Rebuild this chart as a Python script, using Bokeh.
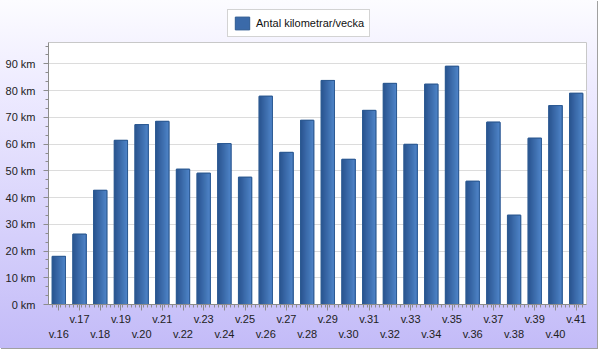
from bokeh.plotting import figure
from bokeh.layouts import column
from bokeh.models import (Range1d, FixedTicker, LinearAxis, Legend, LegendItem,
                          PrintfTickFormatter, ColumnDataSource)
from bokeh.transform import dodge
from bokeh.embed import file_html
from bokeh.resources import INLINE

# ---- data ----
weeks = ["v.16", "v.17", "v.18", "v.19", "v.20", "v.21", "v.22", "v.23", "v.24",
         "v.25", "v.26", "v.27", "v.28", "v.29", "v.30", "v.31", "v.32", "v.33",
         "v.34", "v.35", "v.36", "v.37", "v.38", "v.39", "v.40", "v.41"]
km = [18.0, 26.3, 42.7, 61.4, 67.3, 68.5, 50.6, 49.1, 60.2, 47.6, 77.9, 56.9, 68.9,
      83.8, 54.3, 72.6, 82.7, 59.9, 82.4, 89.1, 46.1, 68.2, 33.4, 62.2, 74.4, 79.0]
y_ticks = [0, 10, 20, 30, 40, 50, 60, 70, 80, 90]
series_name = "Antal kilometrar/vecka"

FONT = "Liberation Sans"
N = len(weeks)
xs = list(range(1, N + 1))
src = ColumnDataSource(dict(x=xs, km=km, week=weeks))

BAR_FILL = "#3b6aa9"
BAR_LINE = "#2d5a92"

# ---- main chart ----
p = figure(width=597, height=308, x_range=Range1d(0.5, N + 0.5), y_range=Range1d(0, 98),
           output_backend="svg", toolbar_location=None,
           min_border_left=48, min_border_right=11, min_border_top=2, min_border_bottom=44)
p.border_fill_color = None
p.background_fill_color = "white"
p.outline_line_color = "#c8c8c8"

BW = 0.64
p.vbar(x="x", top="km", width=BW, source=src, fill_color=BAR_FILL,
       line_color=BAR_LINE, line_width=1)
nstrip = 12
step = BW / nstrip
c0 = (43, 86, 145)
c1 = (78, 131, 199)
for k in range(nstrip):
    left = -BW / 2 + k * step
    right = BW / 2
    t = k / (nstrip - 1)
    col = "#%02x%02x%02x" % tuple(int(round(a + (b - a) * t)) for a, b in zip(c0, c1))
    p.vbar(x=dodge("x", (left + right) / 2), top="km", width=right - left, source=src,
           fill_color=col, line_color=None)
p.vbar(x="x", top="km", width=BW, source=src, fill_color=None,
       line_color=BAR_LINE, line_width=1)

minor_x = [round(0.5 + 0.2 * j, 4) for j in range(1, 5 * N)]
xa = p.xaxis[0]
xa.ticker = FixedTicker(ticks=xs, minor_ticks=minor_x)
xa.major_label_overrides = {xs[i]: (weeks[i] if i % 2 == 1 else "") for i in range(N)}
xa.axis_line_color = "#8c8c8c"
xa.major_tick_line_color = "#8c8c8c"
xa.minor_tick_line_color = "#8c8c8c"
xa.major_tick_out = 6
xa.major_tick_in = 0
xa.minor_tick_out = 3
xa.minor_tick_in = 0
xa.major_label_standoff = 2
xa.major_label_text_font = FONT
xa.major_label_text_font_size = "11px"
xa.major_label_text_color = "#222222"

ax2 = LinearAxis(ticker=FixedTicker(ticks=xs[0::2], minor_ticks=[]),
                 major_label_overrides={xs[i]: weeks[i] for i in range(0, N, 2)},
                 axis_line_color=None, major_tick_line_color=None,
                 minor_tick_line_color=None, major_tick_out=0, major_tick_in=0,
                 minor_tick_out=0, minor_tick_in=0, major_label_standoff=0,
                 major_label_text_font=FONT, major_label_text_font_size="11px",
                 major_label_text_color="#222222")
p.add_layout(ax2, "below")

ya = p.yaxis[0]
ya.ticker = FixedTicker(ticks=y_ticks, minor_ticks=[round(j * 10 / 3, 4) for j in range(0, 30)])
ya.formatter = PrintfTickFormatter(format="%d km")
ya.axis_line_color = "#8c8c8c"
ya.major_tick_line_color = "#8c8c8c"
ya.minor_tick_line_color = "#8c8c8c"
ya.major_tick_out = 5
ya.major_tick_in = 0
ya.minor_tick_out = 3
ya.minor_tick_in = 0
ya.major_label_standoff = 8
ya.major_label_text_font = FONT
ya.major_label_text_font_size = "11px"
ya.major_label_text_color = "#222222"

p.xgrid.visible = False
p.ygrid.grid_line_color = "#dcdcdc"
p.ygrid.grid_line_width = 1

# ---- legend strip on top (renderer is hidden; legend shows its swatch) ----
lf = figure(width=597, height=40, x_range=Range1d(0.5, N + 0.5), y_range=Range1d(0, 98),
            output_backend="svg", toolbar_location=None, min_border=0,
            min_border_left=0, min_border_right=0, min_border_top=0, min_border_bottom=0)
lf.axis.visible = False
lf.grid.visible = False
lf.outline_line_color = None
lf.background_fill_color = None
lf.border_fill_color = None
swatch = lf.vbar(x="x", top="km", width=BW, source=src, fill_color=BAR_FILL,
                 line_color=BAR_LINE, visible=False)
legend = Legend(items=[LegendItem(label=series_name, renderers=[swatch])],
                location=(179, 3), orientation="horizontal", margin=0, padding=5,
                spacing=0, glyph_width=18, glyph_height=16, label_height=16,
                label_standoff=5, label_text_font=FONT, label_text_font_size="11px",
                label_text_color="#111111", border_line_color="#a8a8a8",
                background_fill_color="white", background_fill_alpha=1.0,
                inactive_fill_alpha=0.0)
lf.add_layout(legend)

layout = column(lf, p, spacing=0)
layout.styles = {"background": "linear-gradient(to bottom, #fcfcff 0%, #eeebff 25%, #c3bbf8 100%)",
                 "box-shadow": "1px 1px 0 #a0a0a0"}

open("out.html", "w").write(file_html(layout, INLINE))
